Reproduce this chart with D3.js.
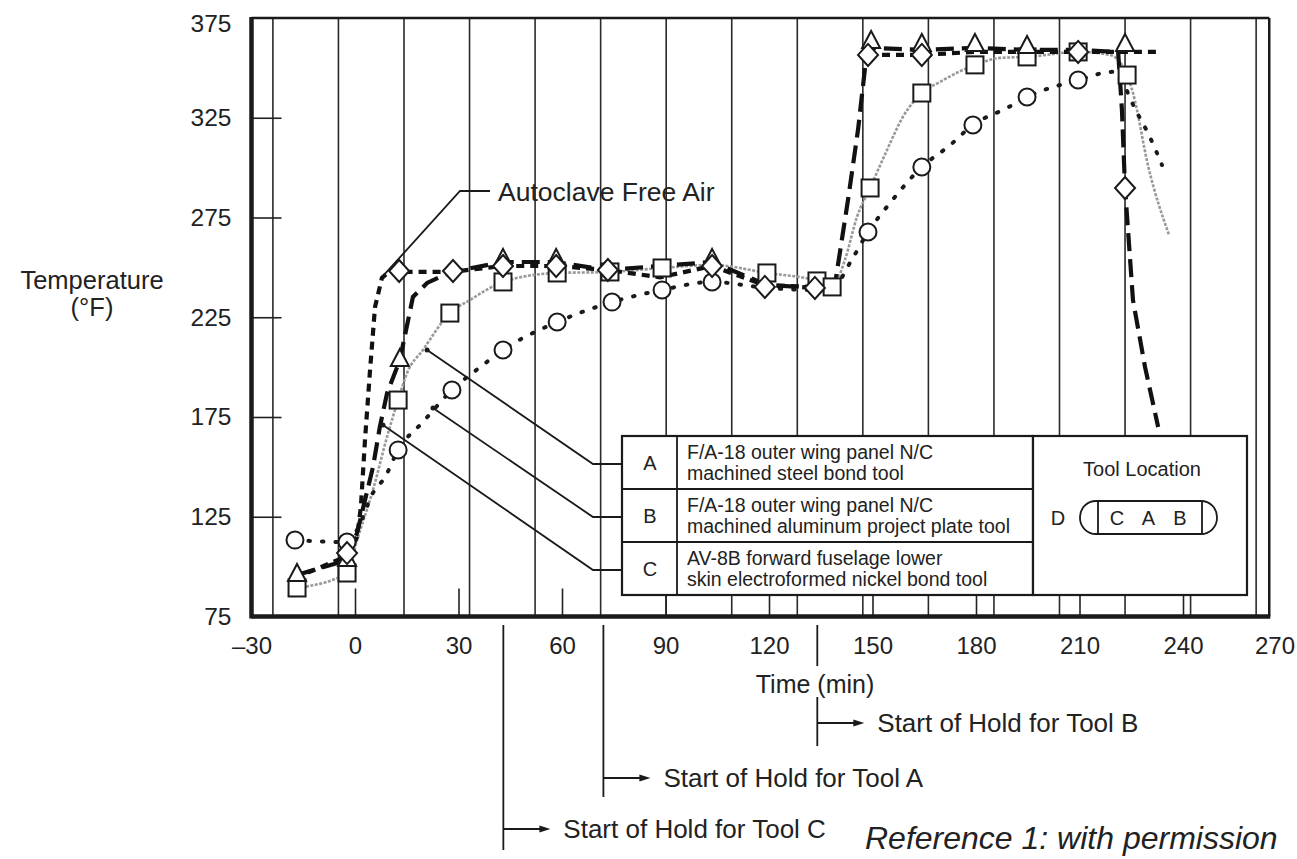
<!DOCTYPE html>
<html>
<head>
<meta charset="utf-8">
<script src="https://cdn.jsdelivr.net/npm/d3@7/dist/d3.min.js"></script>
<style>
  body { margin: 0; background: #fff; }
  text { font-family: "Liberation Sans", Arial, Helvetica, sans-serif; fill: #222; }
</style>
</head>
<body>
<div class="chart"></div>
<script>
// Axis tick values
var xTicks = [-30, 0, 30, 60, 90, 120, 150, 180, 210, 240, 270];
var yTicks = [75, 125, 175, 225, 275, 325, 375];

// Autoclave free air (D) - [time (min), temp (F)], null = gap
var airLine = [[-17.4, 94.3], [-2.3, 105.3], [0.6, 114.8], [1.7, 129.9], [2.9, 163.5], [4.3, 197.1],
    [5.8, 230.1], [7.8, 244.7], [10.1, 248.2], [12.8, 247.7], [27.8, 247.7], [42.9, 250.7],
    [58.3, 250.7], [73.3, 248.7], [88.4, 245], [103.5, 250.7], [118.8, 241], [133.3, 240.2],
    [138.3, 242.2], [143, null], [148.7, 356.5], [164.3, 356.5], [179.7, 358], [194.8, 358],
    [209.6, 358], [223.2, 358], [233.3, 358]];
var airMarks = [[-2.3, 106.8], [12.8, 248.2], [28.4, 248.2], [42.9, 250.7], [58.3, 250.7],
    [73.3, 248.7], [103.5, 250.7], [118.8, 240.2], [133.3, 239.7], [148.7, 356.5],
    [164.3, 356.5], [209.6, 358], [223.2, 289.8]];

// Tool C - electroformed nickel (long dash, triangles)
var toolCLine = [[-16.8, 95.8], [-2.3, 103.3], [0.6, 116.9], [2.9, 133.4], [5.2, 149.9], [7.2, 170],
    [9.3, 187], [13, 203.6], [14.5, 216.1], [16.8, 235.2], [20.9, 242.2], [27.8, 247.7],
    [42.9, 252.7], [58.3, 252.7], [72.8, 248.7], [88.4, 250.7], [103.5, 252.7], [119.4, 241.2],
    [133.3, 239.7], [139.1, 241.2], [142.9, 283.8], [145.8, 318.9], [148.1, 354], [149.6, 360],
    [164.3, 359], [179.7, 360], [194.8, 359], [209.6, 359], [221.2, 358], [222.3, 329],
    [223.2, 289.8], [225.5, 233.6], [229, 200], [232.8, 170]];
var toolCMarks = [[-16.8, 95.8], [-2.3, 103.3], [13, 203.6], [42.9, 253.7], [58.3, 253.7],
    [103.5, 253.7], [149.6, 363], [164.3, 361.5], [179.7, 361.5], [194.8, 360.5], [223.2, 361.5]];

// Tool A - machined steel (grey line, squares)
var toolALine = [[-16.8, 89.3], [-2.3, 96.8], [0.6, 113.3], [5.2, 138.4], [9.6, 167], [12.5, 183.5],
    [15.1, 197.1], [19.7, 208.6], [27.5, 227.1], [33.3, 233.6], [42.9, 242.7], [58.6, 247.2],
    [73.9, 247.7], [89, 249.7], [103.5, 251.2], [119.4, 247.2], [133.9, 243.2], [138.3, 240.2],
    [142, 253.7], [145.5, 275.3], [149.3, 289.8], [154.2, 308.8], [158.8, 325.4], [164.3, 337.4],
    [169.6, 343], [179.7, 351.5], [187, 355], [194.8, 355.5], [209.6, 358], [218.8, 356.5],
    [223.8, 346.4], [225.5, 337.4], [230, 300], [236, 266]];
var toolAMarks = [[-16.8, 89.3], [-2.3, 96.8], [12.5, 183.5], [27.5, 227.1], [42.9, 242.7],
    [58.6, 247.2], [73.9, 247.7], [89, 249.7], [119.4, 247.2], [133.9, 243.2], [138.3, 240.2],
    [149.3, 289.8], [164.3, 337.4], [179.7, 351.5], [194.8, 355.5], [209.6, 358], [223.8, 346.4]];

// Tool B - machined aluminum (dotted, circles)
var toolBLine = [[-17.4, 113.3], [-2.3, 112.3], [0.6, 118.4], [5.2, 136.9], [8.7, 144.9], [12.5, 158.5],
    [19.7, 172.5], [28.1, 188.5], [37.1, 201.1], [42.9, 208.6], [58.6, 222.6], [74.5, 232.6],
    [89, 238.7], [103.5, 242.7], [119.4, 239.7], [133.3, 238.7], [138.6, 240.2], [144.3, 254.8],
    [148.7, 267.7], [155.1, 282.3], [164.3, 300.3], [172.5, 311.3], [179.1, 321.4], [189, 329.9],
    [194.8, 335.4], [209.6, 343.9], [219.7, 348], [226.7, 327.4], [230.4, 315.3], [233.9, 301.3]];
var toolBMarks = [[-17.4, 113.3], [-2.3, 112.3], [12.5, 158.5], [28.1, 188.5], [42.9, 208.6],
    [58.6, 222.6], [74.5, 232.6], [89, 238.7], [103.5, 242.7], [148.7, 267.7], [164.3, 300.3],
    [179.1, 321.4], [194.8, 335.4], [209.6, 343.9]];

// Legend contents
var legendKeys = ["A", "B", "C"];
var legendText = [
    ["F/A-18 outer wing panel N/C", "machined steel bond tool"],
    ["F/A-18 outer wing panel N/C", "machined aluminum project plate tool"],
    ["AV-8B forward fuselage lower", "skin electroformed nickel bond tool"]
];
var leaderTargets = [[20.9, 208.6], [22.6, 179.5], [8.1, 171]];
var airLeaderTarget = [8.4, 246.2];

// Start of hold times (min)
var holdTimes = [43, 72, 134];
var holdLabels = ["Start of Hold for Tool C", "Start of Hold for Tool A", "Start of Hold for Tool B"];

var svgWidth = 1297;
var svgHeight = 859;

var svg = d3.select(".chart")
    .append("svg")
    .attr("width", svgWidth)
    .attr("height", svgHeight)
    .style("display", "block");

// scales
var x = d3.scaleLinear().domain([-30, 270]).range([251.5, 1286.5]);
var y = d3.scaleLinear().domain([75, 375]).range([616.5, 18]);
var xRight = 265;  // right edge of the plotting frame (min)

// vertical graph paper lines
var gridTimes = d3.range(-23.8, 263, 19);
svg.append("g").selectAll("line")
    .data(gridTimes)
    .enter()
    .append("line")
    .attr("x1", d => x(d)).attr("x2", d => x(d))
    .attr("y1", y(375)).attr("y2", y(75))
    .attr("stroke", "#2a2a2a")
    .attr("stroke-width", 1.6);

// axes
var bottomAxis = d3.axisBottom(x).tickValues(xTicks).tickSizeInner(-28).tickSizeOuter(0).tickPadding(20);
var xAxisG = svg.append("g")
    .attr("transform", `translate(0, ${y(75)})`)
    .call(bottomAxis);
xAxisG.select(".domain").remove();
xAxisG.selectAll(".tick line")
    .attr("stroke", "#222").attr("stroke-width", 1.6)
    .filter(d => d < 0 || d > xRight).remove();
xAxisG.selectAll(".tick text")
    .style("font-size", "24px").attr("fill", "#222")
    .text(d => d < 0 ? "\u201330" : d)
    .attr("dx", d => d == 270 ? -12 : 0);

var leftAxis = d3.axisLeft(y).tickValues(yTicks).tickSizeInner(-30).tickSizeOuter(0).tickPadding(20);
var yAxisG = svg.append("g")
    .attr("transform", `translate(${x(-30)}, 0)`)
    .call(leftAxis);
yAxisG.select(".domain").remove();
yAxisG.selectAll(".tick line")
    .attr("stroke", "#222").attr("stroke-width", 1.6)
    .filter(d => d == 75 || d == 375).remove();
yAxisG.selectAll(".tick text")
    .style("font-size", "24.5px").attr("fill", "#222")
    .attr("dy", d => d == 375 ? "0.55em" : "0.32em");

// frame
var frame = svg.append("g").attr("stroke", "#1a1a1a").attr("fill", "none");
frame.append("line").attr("x1", x(-30)).attr("x2", x(xRight)).attr("y1", y(375)).attr("y2", y(375)).attr("stroke-width", 2.5);
frame.append("line").attr("x1", x(xRight)).attr("x2", x(xRight)).attr("y1", y(375)).attr("y2", y(75)).attr("stroke-width", 2.5);
frame.append("line").attr("x1", x(-30)).attr("x2", x(xRight) + 1).attr("y1", y(75)).attr("y2", y(75)).attr("stroke-width", 4.5);
frame.append("line").attr("x1", x(-30)).attr("x2", x(-30)).attr("y1", y(375) - 1).attr("y2", y(75) + 2).attr("stroke-width", 4.5);

// axis titles
svg.append("text").attr("x", 92).attr("y", 280).attr("text-anchor", "middle").attr("dy", "0.35em")
    .style("font-size", "25.5px").text("Temperature");
svg.append("text").attr("x", 92).attr("y", 307).attr("text-anchor", "middle").attr("dy", "0.35em")
    .style("font-size", "25.5px").text("(\u00B0F)");
svg.append("text").attr("x", 815).attr("y", 684).attr("text-anchor", "middle").attr("dy", "0.35em")
    .style("font-size", "25px").text("Time (min)");

// lines
var line = d3.line()
    .defined(d => d[1] != null)
    .x(d => x(d[0]))
    .y(d => y(d[1]));
var curved = d3.line()
    .defined(d => d[1] != null)
    .curve(d3.curveMonotoneX)
    .x(d => x(d[0]))
    .y(d => y(d[1]));

var lineGroup = svg.append("g").attr("fill", "none");
lineGroup.append("path").datum(toolALine).attr("d", curved)
    .attr("stroke", "#999").attr("stroke-width", 2.6).attr("stroke-dasharray", "3,1.5");
lineGroup.append("path").datum(toolBLine).attr("d", curved)
    .attr("stroke", "#1a1a1a").attr("stroke-width", 4).attr("stroke-linecap", "round")
    .attr("stroke-dasharray", "1.5,12");
lineGroup.append("path").datum(toolCLine).attr("d", line)
    .attr("stroke", "#111").attr("stroke-width", 4.2).attr("stroke-dasharray", "18,8");
lineGroup.append("path").datum(airLine).attr("d", line)
    .attr("stroke", "#111").attr("stroke-width", 4.2).attr("stroke-dasharray", "8,6");

// markers
var markGroup = svg.append("g").attr("fill", "#fff").attr("stroke", "#1a1a1a").attr("stroke-width", 2);
markGroup.selectAll(".sq").data(toolAMarks).enter().append("rect")
    .attr("x", d => x(d[0]) - 8.5).attr("y", d => y(d[1]) - 8.5)
    .attr("width", 17).attr("height", 17);
markGroup.selectAll(".ci").data(toolBMarks).enter().append("circle")
    .attr("cx", d => x(d[0])).attr("cy", d => y(d[1])).attr("r", 8.5);
markGroup.selectAll(".tr").data(toolCMarks).enter().append("path")
    .attr("d", d => `M${x(d[0])},${y(d[1]) - 11}L${x(d[0]) + 9},${y(d[1]) + 6}L${x(d[0]) - 9},${y(d[1]) + 6}Z`);
markGroup.selectAll(".di").data(airMarks).enter().append("path")
    .attr("d", d => `M${x(d[0])},${y(d[1]) - 11}L${x(d[0]) + 10},${y(d[1])}L${x(d[0])},${y(d[1]) + 11}L${x(d[0]) - 10},${y(d[1])}Z`);

// Autoclave free air label
svg.append("path")
    .attr("d", `M${x(airLeaderTarget[0])},${y(airLeaderTarget[1])}L460,191L490,191`)
    .attr("fill", "none").attr("stroke", "#1a1a1a").attr("stroke-width", 1.8);
svg.append("text").attr("x", 498).attr("y", 192).attr("dy", "0.35em")
    .style("font-size", "26.5px").text("Autoclave Free Air");

// legend box
var legend = svg.append("g");
var rowTop = [436, 489, 542];
legend.selectAll(".lead").data(leaderTargets).enter().append("path")
    .attr("d", (d, i) => `M622,${rowTop[i] + 28}L593,${rowTop[i] + 28}L${x(d[0])},${y(d[1])}`)
    .attr("fill", "none").attr("stroke", "#1a1a1a").attr("stroke-width", 1.8);
legend.selectAll(".tip").data(leaderTargets).enter().append("circle")
    .attr("cx", d => x(d[0])).attr("cy", d => y(d[1])).attr("r", 2.5).attr("fill", "#1a1a1a");
legend.append("rect").attr("x", 622).attr("y", 436).attr("width", 411).attr("height", 159)
    .attr("fill", "#fff").attr("stroke", "#1a1a1a").attr("stroke-width", 2.2);
legend.append("line").attr("x1", 677).attr("x2", 677).attr("y1", 436).attr("y2", 595)
    .attr("stroke", "#1a1a1a").attr("stroke-width", 1.8);
legend.selectAll(".row").data([489, 542]).enter().append("line")
    .attr("x1", 622).attr("x2", 1033).attr("y1", d => d).attr("y2", d => d)
    .attr("stroke", "#1a1a1a").attr("stroke-width", 1.8);
legend.selectAll(".key").data(legendKeys).enter().append("text")
    .attr("x", 650).attr("y", (d, i) => rowTop[i] + 27).attr("dy", "0.35em")
    .attr("text-anchor", "middle").style("font-size", "20px").text(d => d);
legendText.forEach(function(lines, i) {
    lines.forEach(function(t, j) {
        legend.append("text").attr("x", 687).attr("y", rowTop[i] + 16 + j * 21).attr("dy", "0.35em")
            .style("font-size", "19.5px").text(t);
    });
});

// tool location box
legend.append("rect").attr("x", 1033).attr("y", 436).attr("width", 214).attr("height", 159)
    .attr("fill", "#fff").attr("stroke", "#1a1a1a").attr("stroke-width", 2.2);
legend.append("text").attr("x", 1142).attr("y", 469).attr("dy", "0.35em").attr("text-anchor", "middle")
    .style("font-size", "20px").text("Tool Location");
legend.append("text").attr("x", 1058).attr("y", 518).attr("dy", "0.35em").attr("text-anchor", "middle")
    .style("font-size", "20px").text("D");
legend.append("rect").attr("x", 1080).attr("y", 501).attr("width", 137).attr("height", 33).attr("rx", 16)
    .attr("fill", "none").attr("stroke", "#1a1a1a").attr("stroke-width", 1.8);
legend.selectAll(".cap").data([1098, 1202]).enter().append("line")
    .attr("x1", d => d).attr("x2", d => d).attr("y1", 501).attr("y2", 534)
    .attr("stroke", "#1a1a1a").attr("stroke-width", 1.8);
legend.selectAll(".loc").data(["C", "A", "B"]).enter().append("text")
    .attr("x", (d, i) => 1117 + i * 31.5).attr("y", 518).attr("dy", "0.35em").attr("text-anchor", "middle")
    .style("font-size", "20px").text(d => d);

// start of hold annotations
var holdArrowY = [829, 778, 723];
var holdLineEnd = [850, 797, 746];
var holds = svg.append("g");
holdTimes.forEach(function(t, i) {
    var hx = x(t);
    if (i == 2) {
        holds.append("line").attr("x1", hx).attr("x2", hx).attr("y1", 625).attr("y2", 666)
            .attr("stroke", "#1a1a1a").attr("stroke-width", 1.8);
        holds.append("line").attr("x1", hx).attr("x2", hx).attr("y1", 697).attr("y2", holdLineEnd[i])
            .attr("stroke", "#1a1a1a").attr("stroke-width", 1.8);
    } else {
        holds.append("line").attr("x1", hx).attr("x2", hx).attr("y1", 625).attr("y2", holdLineEnd[i])
            .attr("stroke", "#1a1a1a").attr("stroke-width", 1.8);
    }
    holds.append("line").attr("x1", hx).attr("x2", hx + 38).attr("y1", holdArrowY[i]).attr("y2", holdArrowY[i])
        .attr("stroke", "#1a1a1a").attr("stroke-width", 1.8);
    holds.append("path")
        .attr("d", `M${hx + 47},${holdArrowY[i]}L${hx + 36},${holdArrowY[i] - 3.5}L${hx + 36},${holdArrowY[i] + 3.5}Z`)
        .attr("fill", "#1a1a1a");
    holds.append("text").attr("x", hx + 60).attr("y", holdArrowY[i]).attr("dy", "0.35em")
        .style("font-size", "26px").text(holdLabels[i]);
});

svg.append("text").attr("x", 865).attr("y", 838).attr("dy", "0.35em")
    .style("font-size", "32px").style("font-style", "italic").attr("fill", "#3c3c3c")
    .text("Reference 1: with permission");
</script>
</body>
</html>
